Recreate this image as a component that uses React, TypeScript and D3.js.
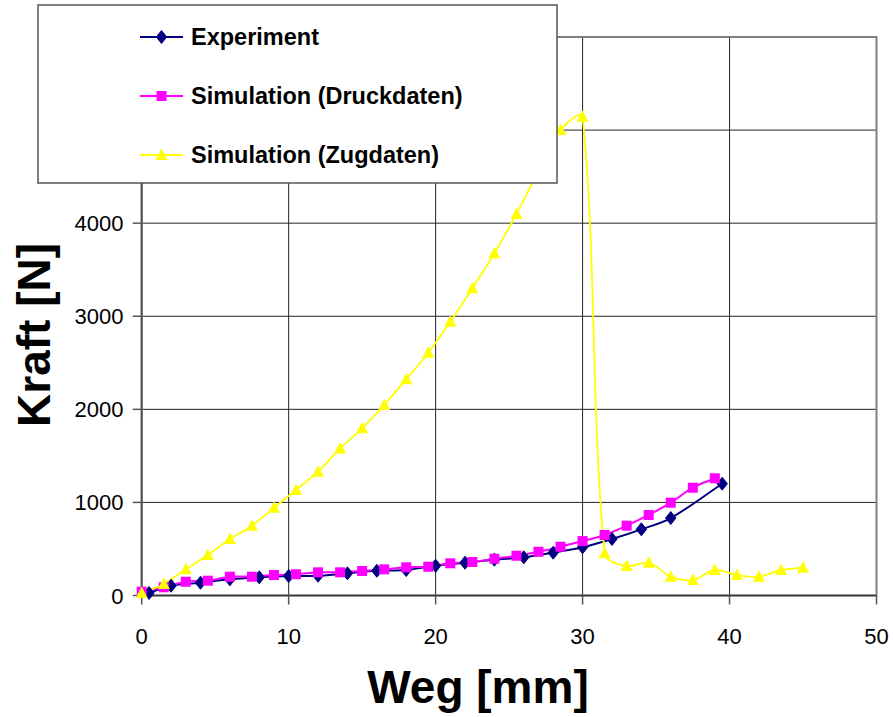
import React from 'react';
import * as d3 from 'd3';

// Weg [mm] / Kraft [N]
const expX = [0.5, 2, 4, 6, 8, 10, 12, 14, 16, 18, 20, 22, 24, 26, 28, 30, 32, 34, 36, 39.5];
const expY = [27, 105, 137, 174, 195, 209, 212, 238, 266, 274, 320, 352, 385, 410, 460, 518, 607, 711, 832, 1201];

const druckX = [0, 1.5, 3, 4.5, 6, 7.5, 9, 10.5, 12, 13.5, 15, 16.5, 18, 19.5, 21, 22.5, 24, 25.5, 27, 28.5, 30, 31.5, 33, 34.5, 36, 37.5, 39];
const druckY = [41, 88, 148, 159, 202, 202, 220, 228, 249, 249, 263, 281, 303, 309, 346, 360, 395, 427, 470, 524, 585, 650, 750, 865, 997, 1158, 1259];

const zugX = [0, 1.5, 3, 4.5, 6, 7.5, 9, 10.5, 12, 13.5, 15, 16.5, 18, 19.5, 21, 22.5, 24, 25.5, 27, 28.5, 30, 31.5, 33, 34.5, 36, 37.5, 39, 40.5, 42, 43.5, 45];
const zugY = [27, 124, 281, 435, 607, 750, 943, 1133, 1330, 1580, 1796, 2046, 2322, 2608, 2941, 3300, 3676, 4098, 4560, 5000, 5143, 453, 317, 352, 202, 166, 274, 220, 202, 274, 299];

const xTicks = [0, 10, 20, 30, 40, 50];
const yTicks = [0, 1000, 2000, 3000, 4000, 5000, 6000];
const yTickLabels = ['0', '1000', '2000', '3000', '4000', '', ''];

const seriesNames = ['Experiment', 'Simulation (Druckdaten)', 'Simulation (Zugdaten)'];

const W = 893;
const H = 717;
const left = 141.7;
const right = 876.5;
const top = 37;
const bottom = 595.5;

const font = '"Liberation Sans", Arial, sans-serif';

// smoothed line like the spreadsheet's: bezier tangents weighted by segment length
function smoothPath(pts: [number, number][]) {
  const n = pts.length;
  const dist = (a: [number, number], b: [number, number]) => Math.hypot(b[0] - a[0], b[1] - a[1]);
  const ctrl = (i: number, forward: boolean): [number, number] => {
    const p = pts[i];
    const prev = pts[Math.max(0, i - 1)];
    const next = pts[Math.min(n - 1, i + 1)];
    const d0 = dist(prev, p);
    const d1 = dist(p, next);
    const tot = d0 + d1 || 1;
    const tx = next[0] - prev[0];
    const ty = next[1] - prev[1];
    const f = (forward ? d1 : -d0) / tot / 3;
    return [p[0] + tx * f, p[1] + ty * f];
  };
  let d = `M${pts[0][0]},${pts[0][1]}`;
  for (let i = 0; i < n - 1; i++) {
    const c1 = ctrl(i, true);
    const c2 = ctrl(i + 1, false);
    d += `C${c1[0]},${c1[1]},${c2[0]},${c2[1]},${pts[i + 1][0]},${pts[i + 1][1]}`;
  }
  return d;
}

function marker(kind: string, cx: number, cy: number, color: string, key: string) {
  if (kind === 'diamond') {
    const p = `M${cx},${cy - 6.5}L${cx + 5.2},${cy}L${cx},${cy + 6.5}L${cx - 5.2},${cy}Z`;
    return <path key={key} d={p} fill={color} stroke={color} strokeWidth={1} />;
  }
  if (kind === 'square') {
    return <rect key={key} x={cx - 5} y={cy - 5} width={10} height={10} fill={color} />;
  }
  const p = `M${cx},${cy - 6.5}L${cx + 6},${cy + 5}L${cx - 6},${cy + 5}Z`;
  return <path key={key} d={p} fill={color} />;
}

export default function App() {
  const x = d3.scaleLinear().domain([0, 50]).range([left, right]);
  const y = d3.scaleLinear().domain([0, 6000]).range([bottom, top]);

  const series = [
    { xs: expX, ys: expY, color: '#000080', kind: 'diamond', width: 2 },
    { xs: druckX, ys: druckY, color: '#FF00FF', kind: 'square', width: 2 },
    { xs: zugX, ys: zugY, color: '#FFFF00', kind: 'triangle', width: 1.8 },
  ];

  const legendRows = [45, 104, 163];

  return (
    <svg
      width={W}
      height={H}
      style={{ position: 'absolute', left: 0, top: 0, background: '#fff' }}
      fontFamily={font}
    >
      <rect x={0} y={0} width={W} height={H} fill="#fff" />

      {/* grid */}
      {yTicks.slice(1, -1).map((t) => (
        <line key={'gy' + t} x1={left} x2={right} y1={y(t)} y2={y(t)} stroke="#222" strokeWidth={1} />
      ))}
      {xTicks.slice(1, -1).map((t) => (
        <line key={'gx' + t} x1={x(t)} x2={x(t)} y1={top} y2={bottom} stroke="#222" strokeWidth={1} />
      ))}

      {/* frame */}
      <rect x={left} y={top} width={right - left} height={bottom - top} fill="none" stroke="#808080" strokeWidth={2} />
      <line x1={left} x2={right} y1={bottom} y2={bottom} stroke="#333" strokeWidth={1.5} />
      <line x1={left} x2={left} y1={top} y2={bottom} stroke="#555" strokeWidth={2} />

      {/* ticks */}
      {yTicks.map((t, i) => (
        <g key={'ty' + t}>
          <line x1={left - 9} x2={left} y1={y(t)} y2={y(t)} stroke="#555" strokeWidth={1.5} />
          <text x={123.5} y={y(t) + 8} textAnchor="end" fontSize={22} fill="#000">
            {yTickLabels[i]}
          </text>
        </g>
      ))}
      {xTicks.map((t) => (
        <g key={'tx' + t}>
          <line x1={x(t)} x2={x(t)} y1={bottom} y2={bottom + 9} stroke="#555" strokeWidth={1.5} />
          <text x={x(t)} y={644} textAnchor="middle" fontSize={22} fill="#000">
            {t}
          </text>
        </g>
      ))}

      {/* lines */}
      {series.map((s, i) => (
        <path
          key={'l' + i}
          d={smoothPath(s.xs.map((v, j) => [x(v), y(s.ys[j])] as [number, number]))}
          fill="none"
          stroke={s.color}
          strokeWidth={s.width}
        />
      ))}
      {/* markers */}
      {series.map((s, i) => (
        <g key={'m' + i}>{s.xs.map((v, j) => marker(s.kind, x(v), y(s.ys[j]), s.color, `m${i}-${j}`))}</g>
      ))}

      {/* axis titles */}
      <text x={478} y={703} textAnchor="middle" fontSize={46} fontWeight="bold" fill="#000">
        Weg [mm]
      </text>
      <text
        transform="translate(50,335) rotate(-90)"
        textAnchor="middle"
        fontSize={46}
        fontWeight="bold"
        fill="#000"
      >
        Kraft [N]
      </text>

      {/* legend */}
      <rect x={38} y={5} width={519} height={178} fill="#fff" stroke="#555" strokeWidth={1.5} />
      {series.map((s, i) => (
        <g key={'lg' + i}>
          <line x1={140} x2={183} y1={legendRows[i] - 8} y2={legendRows[i] - 8} stroke={s.color} strokeWidth={s.width} />
          {marker(s.kind, 161.5, legendRows[i] - 8, s.color, 'lm' + i)}
          <text x={191} y={legendRows[i]} fontSize={23.5} fontWeight="bold" fill="#000">
            {seriesNames[i]}
          </text>
        </g>
      ))}
    </svg>
  );
}
